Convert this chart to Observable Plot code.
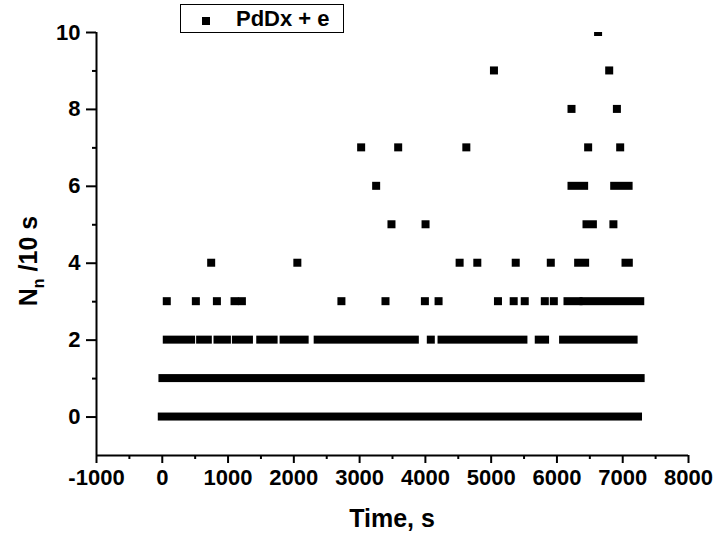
<!DOCTYPE html>
<html>
<head>
<meta charset="utf-8">
<script src="https://cdn.jsdelivr.net/npm/d3@7"></script>
<script src="https://cdn.jsdelivr.net/npm/@observablehq/plot@0.6"></script>
<style>
  html, body { margin: 0; padding: 0; background: #fff; }
  #wrap { position: relative; width: 717px; height: 535px; overflow: hidden; font-family: "Liberation Sans", Arial, sans-serif; }
  #legend { position: absolute; left: 180px; top: 4px; width: 162px; height: 27px; border: 1px solid #000; background: #fff;
            font: bold 22px "Liberation Sans", Arial, sans-serif; color: #000; box-sizing: content-box; }
  #legend .sw { position: absolute; left: 21px; top: 12px; width: 8px; height: 8px; background: #000; }
  #legend .tx { position: absolute; left: 55px; top: 1px; line-height: 26px; white-space: nowrap; }
</style>
</head>
<body>
<div id="wrap">
  <div id="chart"></div>
  <div id="legend"><span class="sw"></span><span class="tx">PdDx + e</span></div>
</div>
<script>
// Counts per 10 s (N_n) versus time: runs of consecutive filled time slots [start, end] in seconds,
// a single square is written as [t, t].
const seriesName = "PdDx + e";
const runsN0 = [[0, 7240]];
const runsN1 = [[10, 7280]];
const runsN2 = [[76, 446], [583, 700], [847, 990], [1127, 1325], [1497, 1700], [1852, 2172],
                [2370, 3847], [4090, 4090], [4253, 5498], [5731, 5827], [6101, 7173]];
const runsN3 = [[76, 76], [518, 518], [838, 838], [1106, 1106], [1218, 1218], [2731, 2731],
                [3401, 3401], [4000, 4000], [4208, 4208], [5111, 5111], [5350, 5350], [5518, 5518],
                [5823, 5823], [5960, 5960], [6168, 6336], [6412, 7274]];
const runsN4 = [[751, 751], [2061, 2061], [4528, 4528], [4797, 4797], [5381, 5381], [5914, 5914],
                [6330, 6436], [7050, 7100]];
const runsN5 = [[3492, 3492], [4010, 4010], [6457, 6554], [6866, 6866]];
const runsN6 = [[3259, 3259], [6229, 6421], [6878, 7097]];
const runsN7 = [[3031, 3031], [3594, 3594], [4630, 4630], [6482, 6482], [6969, 6969]];
const runsN8 = [[6229, 6229], [6919, 6919]];
const runsN9 = [[5050, 5050], [6802, 6802]];
const runsN10 = [[6633, 6633]];

const xTicks = [-1000, 0, 1000, 2000, 3000, 4000, 5000, 6000, 7000, 8000];
const xMinorTicks = [-500, 500, 1500, 2500, 3500, 4500, 5500, 6500, 7500];
const yTicks = [0, 2, 4, 6, 8, 10];
const yMinorTicks = [1, 3, 5, 7, 9];
const xLabel = "Time, s";

const allRuns = [runsN0, runsN1, runsN2, runsN3, runsN4, runsN5, runsN6, runsN7, runsN8, runsN9, runsN10];
const cells = allRuns.flatMap((runs, level) => runs.map(([start, end]) => ({level, start, end})));

const font = "'Liberation Sans', Arial, sans-serif";
const chart = Plot.plot({
  width: 717,
  height: 535,
  marginLeft: 96,
  marginRight: 29,
  marginTop: 32,
  marginBottom: 80,
  x: {domain: [-1000, 8000]},
  y: {domain: [-1, 10]},
  style: {fontFamily: font, fontWeight: "bold", fontSize: "22px", color: "#000", background: "#fff", overflow: "visible"},
  marks: [
    Plot.rect(cells, {x1: "start", x2: "end", y1: "level", y2: "level",
      insetLeft: -4, insetRight: -4, insetTop: -4, insetBottom: -4, fill: "#000", clip: "frame"}),
    Plot.ruleX([-1000], {stroke: "#000", strokeWidth: 2}),
    Plot.ruleY([-1], {stroke: "#000", strokeWidth: 2}),
    Plot.axisX({ticks: xTicks, tickSize: 8, tickPadding: 6, strokeWidth: 2, label: null,
      tickFormat: d => String(d)}),
    Plot.axisX({ticks: xMinorTicks, tickSize: 4, strokeWidth: 2, fill: "none", label: null}),
    Plot.axisY({ticks: yTicks, tickSize: 10, tickPadding: 6, strokeWidth: 2, label: null,
      tickFormat: d => String(d)}),
    Plot.axisY({ticks: yMinorTicks, tickSize: 4, strokeWidth: 2, fill: "none", label: null})
  ]
});
document.getElementById("chart").appendChild(chart);

const svg = d3.select(chart);
svg.append("text")
  .attr("x", 392).attr("y", 527)
  .attr("text-anchor", "middle")
  .attr("font-family", font).attr("font-weight", "bold").attr("font-size", 25)
  .attr("fill", "#000")
  .text(xLabel);

const yl = svg.append("text")
  .attr("transform", "translate(37,261) rotate(-90)")
  .attr("text-anchor", "middle")
  .attr("font-family", font).attr("font-weight", "bold").attr("font-size", 25)
  .attr("fill", "#000");
yl.append("tspan").text("N");
yl.append("tspan").attr("font-size", 16).attr("dy", 7).text("n");
yl.append("tspan").attr("dy", -7).text(" /10 s");
</script>
</body>
</html>
